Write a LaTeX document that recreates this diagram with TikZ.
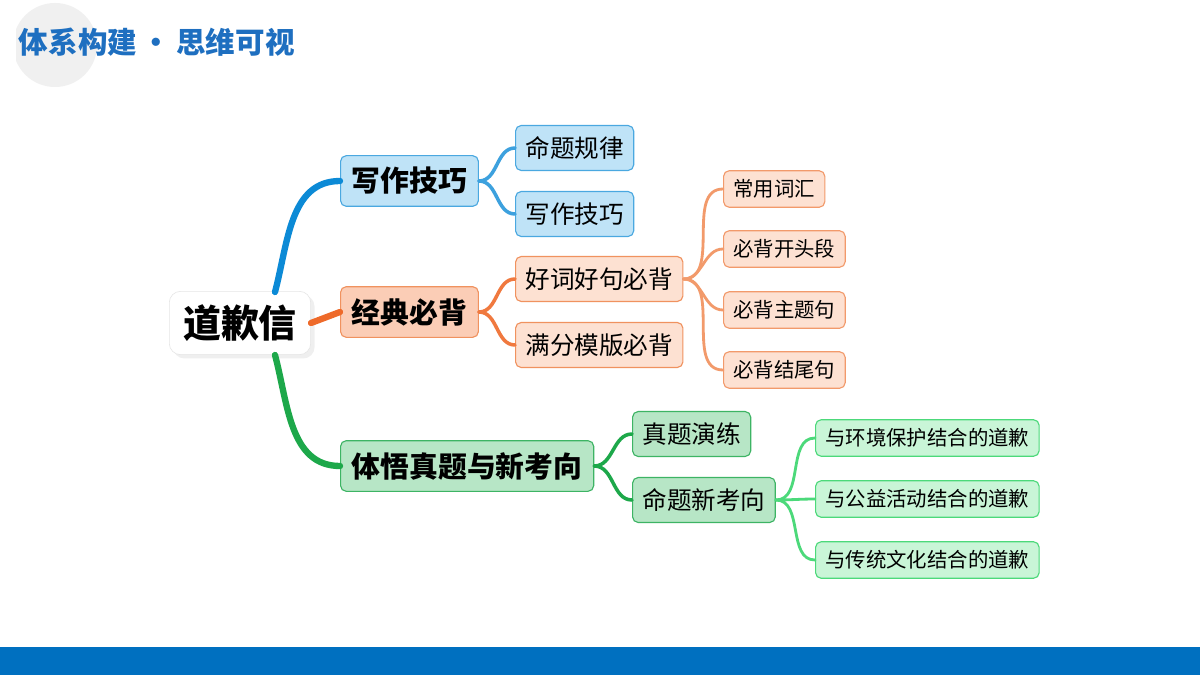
\documentclass[tikz,border=0pt]{standalone}
\usepackage{fontspec}
\setmainfont{Noto Sans CJK SC}
\usetikzlibrary{shadows}
\definecolor{tblue}{HTML}{1E6FC0}
\definecolor{bbar}{HTML}{0070C0}
\definecolor{bl}{HTML}{0C8AD6}\definecolor{blf}{HTML}{BFE3F7}\definecolor{blb}{HTML}{4AA8E0}
\definecolor{og}{HTML}{EE6A2A}\definecolor{ogf}{HTML}{FBCDB6}\definecolor{ogb}{HTML}{F0925F}
\definecolor{ol}{HTML}{F29A6B}\definecolor{olf}{HTML}{FDE1D2}
\definecolor{gr}{HTML}{1DA84A}\definecolor{grf}{HTML}{B7E6C6}\definecolor{grb}{HTML}{3DB464}
\definecolor{gl}{HTML}{4CD97A}\definecolor{glf}{HTML}{C9F5D7}
\tikzset{
 box/.style={draw,rounded corners=4pt,line width=0.8pt,inner ysep=0pt,anchor=west,align=left},
 l1/.style={box,font=\fontsize{20.5}{24}\selectfont\bfseries,inner xsep=8pt,minimum height=36pt},
 l2/.style={box,font=\fontsize{17.5}{20}\selectfont,inner xsep=7pt,minimum height=32pt},
 l3/.style={box,font=\fontsize{14.5}{17}\selectfont,inner xsep=7pt,minimum height=26pt},
 c/.style={line cap=round},
}
\begin{document}
\begin{tikzpicture}[x=0.025cm,y=-0.025cm]
\useasboundingbox (0,0) rectangle (1200,675);
\fill[white] (0,0) rectangle (1200,675);
\fill[gray!12] (55,45) circle (42);
\fill[white] (0,0) rectangle (16,90);
\fill[bbar] (0,647) rectangle (1200,675);
\node[anchor=west,text=tblue,font=\fontsize{21}{24}\selectfont\bfseries] (title) at (14,42) {体系构建\,·\,思维可视};
% root
\node[draw=gray!20,fill=white,rounded corners=8pt,text width=3.3cm,align=center,minimum height=45pt,drop shadow={opacity=0.12},font=\fontsize{27}{30}\selectfont\bfseries] (root) at (240,323) {道歉信};
% L1
\node[l1,fill=blf,draw=blb] (a) at (340,181) {写作技巧};
\node[l1,fill=ogf,draw=ogb] (b) at (340,312) {经典必背};
\node[l1,fill=grf,draw=grb] (g) at (340,466) {体悟真题与新考向};
% connectors root->L1
\draw[c,bl,line width=4.5pt] (275,292) to[out=75,in=180] (a.west);
\draw[c,og,line width=4.5pt] (root.east) -- (b.west);
\draw[c,gr,line width=4.5pt] (275,355) to[out=-75,in=180] (g.west);
% L2
\node[l2,fill=blf,draw=blb] (a1) at (515,148) {命题规律};
\node[l2,fill=blf,draw=blb] (a2) at (515,214) {写作技巧};
\node[l2,fill=olf,draw=ogb] (b1) at (515,279) {好词好句必背};
\node[l2,fill=olf,draw=ogb] (b2) at (515,345) {满分模版必背};
\node[l2,fill=grf,draw=grb] (g1) at (632,434) {真题演练};
\node[l2,fill=grf,draw=grb] (g2) at (632,500) {命题新考向};
\foreach \t in {a1,a2}\draw[c,bl!80!white,line width=2.5pt] (a.east) to[out=0,in=180] (\t.west);
\foreach \t in {b1,b2}\draw[c,og!90!white,line width=2.5pt] (b.east) to[out=0,in=180] (\t.west);
\foreach \t in {g1,g2}\draw[c,gr,line width=2.5pt] (g.east) to[out=0,in=180] (\t.west);
% L3
\node[l3,fill=olf,draw=ol] (c1) at (723,189) {常用词汇};
\node[l3,fill=olf,draw=ol] (c2) at (723,249) {必背开头段};
\node[l3,fill=olf,draw=ol] (c3) at (723,310) {必背主题句};
\node[l3,fill=olf,draw=ol] (c4) at (723,370) {必背结尾句};
\foreach \t in {c1,c2,c3,c4}\draw[c,ol,line width=2pt] (b1.east) to[out=0,in=180] (\t.west);
\node[l3,fill=glf,draw=gl] (d1) at (815,438) {与环境保护结合的道歉};
\node[l3,fill=glf,draw=gl] (d2) at (815,499) {与公益活动结合的道歉};
\node[l3,fill=glf,draw=gl] (d3) at (815,560) {与传统文化结合的道歉};
\foreach \t in {d1,d2,d3}\draw[c,gl,line width=2pt] (g2.east) to[out=0,in=180] (\t.west);
\end{tikzpicture}
\end{document}
